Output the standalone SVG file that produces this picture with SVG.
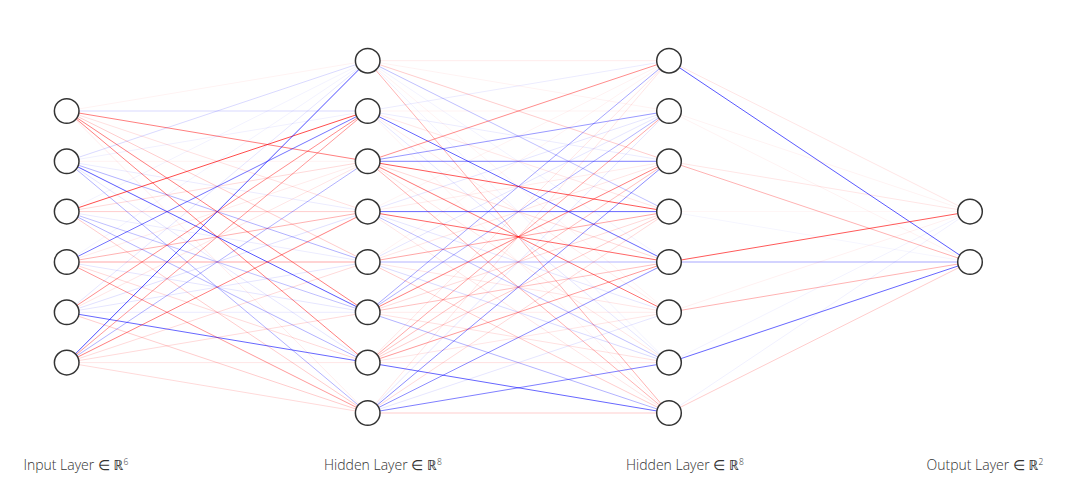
<svg xmlns="http://www.w3.org/2000/svg" width="1070" height="481" viewBox="0 0 1070 481">
<style>
.r{stroke:#ff0000;stroke-width:1;fill:none}
.b{stroke:#0000ff;stroke-width:1;fill:none}
.n{fill:#ffffff;stroke:#333333;stroke-width:1.5}
.lbl{font-family:"Open Sans","Noto Sans","DejaVu Sans",sans-serif;font-size:14px;font-weight:300;fill:#333333}
.sup{font-size:8.5px}
</style>
<rect width="1070" height="481" fill="#ffffff"/>
<g id="connectors">
<!-- input -> hidden1 -->
<line class="r" x1="66.7" y1="111" x2="367.7" y2="60.7" stroke-opacity=".05"/>
<line class="b" x1="66.7" y1="111" x2="367.7" y2="111" stroke-opacity=".15"/>
<line class="r" x1="66.7" y1="111" x2="367.7" y2="161.3" stroke-opacity=".5"/>
<line class="r" x1="66.7" y1="111" x2="367.7" y2="211.6" stroke-opacity=".12"/>
<line class="r" x1="66.7" y1="111" x2="367.7" y2="262" stroke-opacity=".2"/>
<line class="r" x1="66.7" y1="111" x2="367.7" y2="312.3" stroke-opacity=".5"/>
<line class="r" x1="66.7" y1="111" x2="367.7" y2="362.6" stroke-opacity=".5"/>
<line class="r" x1="66.7" y1="111" x2="367.7" y2="413" stroke-opacity=".08"/>

<line class="b" x1="66.7" y1="161.3" x2="367.7" y2="60.7" stroke-opacity=".15"/>
<line class="b" x1="66.7" y1="161.3" x2="367.7" y2="111" stroke-opacity=".06"/>
<line class="r" x1="66.7" y1="161.3" x2="367.7" y2="161.3" stroke-opacity=".05"/>
<line class="b" x1="66.7" y1="161.3" x2="367.7" y2="211.6" stroke-opacity=".08"/>
<line class="b" x1="66.7" y1="161.3" x2="367.7" y2="262" stroke-opacity=".3"/>
<line class="b" x1="66.7" y1="161.3" x2="367.7" y2="312.3" stroke-opacity=".65"/>
<line class="b" x1="66.7" y1="161.3" x2="367.7" y2="362.6" stroke-opacity=".1"/>
<line class="b" x1="66.7" y1="161.3" x2="367.7" y2="413" stroke-opacity=".3"/>

<line class="b" x1="66.7" y1="211.6" x2="367.7" y2="60.7" stroke-opacity=".05"/>
<line class="r" x1="66.7" y1="211.6" x2="367.7" y2="111" stroke-opacity=".7"/>
<line class="r" x1="66.7" y1="211.6" x2="367.7" y2="161.3" stroke-opacity=".15"/>
<line class="r" x1="66.7" y1="211.6" x2="367.7" y2="211.6" stroke-opacity=".2"/>
<line class="b" x1="66.7" y1="211.6" x2="367.7" y2="262" stroke-opacity=".08"/>
<line class="b" x1="66.7" y1="211.6" x2="367.7" y2="312.3" stroke-opacity=".25"/>
<line class="b" x1="66.7" y1="211.6" x2="367.7" y2="362.6" stroke-opacity=".3"/>
<line class="r" x1="66.7" y1="211.6" x2="367.7" y2="413" stroke-opacity=".2"/>

<line class="b" x1="66.7" y1="262" x2="367.7" y2="60.7" stroke-opacity=".05"/>
<line class="b" x1="66.7" y1="262" x2="367.7" y2="111" stroke-opacity=".55"/>
<line class="r" x1="66.7" y1="262" x2="367.7" y2="161.3" stroke-opacity=".08"/>
<line class="r" x1="66.7" y1="262" x2="367.7" y2="211.6" stroke-opacity=".3"/>
<line class="r" x1="66.7" y1="262" x2="367.7" y2="262" stroke-opacity=".35"/>
<line class="b" x1="66.7" y1="262" x2="367.7" y2="312.3" stroke-opacity=".1"/>
<line class="r" x1="66.7" y1="262" x2="367.7" y2="362.6" stroke-opacity=".15"/>
<line class="r" x1="66.7" y1="262" x2="367.7" y2="413" stroke-opacity=".4"/>

<line class="b" x1="66.7" y1="312.3" x2="367.7" y2="60.7" stroke-opacity=".1"/>
<line class="r" x1="66.7" y1="312.3" x2="367.7" y2="111" stroke-opacity=".45"/>
<line class="r" x1="66.7" y1="312.3" x2="367.7" y2="161.3" stroke-opacity=".1"/>
<line class="b" x1="66.7" y1="312.3" x2="367.7" y2="211.6" stroke-opacity=".12"/>
<line class="b" x1="66.7" y1="312.3" x2="367.7" y2="262" stroke-opacity=".1"/>
<line class="b" x1="66.7" y1="312.3" x2="367.7" y2="312.3" stroke-opacity=".08"/>
<line class="b" x1="66.7" y1="312.3" x2="367.7" y2="362.6" stroke-opacity=".6"/>
<line class="r" x1="66.7" y1="312.3" x2="367.7" y2="413" stroke-opacity=".2"/>

<line class="b" x1="66.7" y1="362.6" x2="367.7" y2="60.7" stroke-opacity=".7"/>
<line class="r" x1="66.7" y1="362.6" x2="367.7" y2="111" stroke-opacity=".4"/>
<line class="b" x1="66.7" y1="362.6" x2="367.7" y2="161.3" stroke-opacity=".3"/>
<line class="r" x1="66.7" y1="362.6" x2="367.7" y2="211.6" stroke-opacity=".5"/>
<line class="r" x1="66.7" y1="362.6" x2="367.7" y2="262" stroke-opacity=".15"/>
<line class="r" x1="66.7" y1="362.6" x2="367.7" y2="312.3" stroke-opacity=".15"/>
<line class="r" x1="66.7" y1="362.6" x2="367.7" y2="362.6" stroke-opacity=".1"/>
<line class="r" x1="66.7" y1="362.6" x2="367.7" y2="413" stroke-opacity=".15"/>

<!-- hidden1 -> hidden2 -->
<line class="r" x1="367.7" y1="60.7" x2="669" y2="60.7" stroke-opacity=".08"/>
<line class="r" x1="367.7" y1="60.7" x2="669" y2="111" stroke-opacity=".05"/>
<line class="r" x1="367.7" y1="60.7" x2="669" y2="161.3" stroke-opacity=".2"/>
<line class="b" x1="367.7" y1="60.7" x2="669" y2="211.6" stroke-opacity=".25"/>
<line class="b" x1="367.7" y1="60.7" x2="669" y2="262" stroke-opacity=".05"/>
<line class="r" x1="367.7" y1="60.7" x2="669" y2="312.3" stroke-opacity=".05"/>
<line class="b" x1="367.7" y1="60.7" x2="669" y2="362.6" stroke-opacity=".05"/>
<line class="r" x1="367.7" y1="60.7" x2="669" y2="413" stroke-opacity=".3"/>

<line class="b" x1="367.7" y1="111" x2="669" y2="60.7" stroke-opacity=".08"/>
<line class="r" x1="367.7" y1="111" x2="669" y2="111" stroke-opacity=".05"/>
<line class="b" x1="367.7" y1="111" x2="669" y2="161.3" stroke-opacity=".08"/>
<line class="r" x1="367.7" y1="111" x2="669" y2="211.6" stroke-opacity=".1"/>
<line class="b" x1="367.7" y1="111" x2="669" y2="262" stroke-opacity=".6"/>
<line class="r" x1="367.7" y1="111" x2="669" y2="312.3" stroke-opacity=".08"/>
<line class="b" x1="367.7" y1="111" x2="669" y2="362.6" stroke-opacity=".1"/>
<line class="r" x1="367.7" y1="111" x2="669" y2="413" stroke-opacity=".05"/>

<line class="r" x1="367.7" y1="161.3" x2="669" y2="60.7" stroke-opacity=".45"/>
<line class="b" x1="367.7" y1="161.3" x2="669" y2="111" stroke-opacity=".4"/>
<line class="b" x1="367.7" y1="161.3" x2="669" y2="161.3" stroke-opacity=".5"/>
<line class="r" x1="367.7" y1="161.3" x2="669" y2="211.6" stroke-opacity=".65"/>
<line class="r" x1="367.7" y1="161.3" x2="669" y2="262" stroke-opacity=".15"/>
<line class="r" x1="367.7" y1="161.3" x2="669" y2="312.3" stroke-opacity=".55"/>
<line class="r" x1="367.7" y1="161.3" x2="669" y2="362.6" stroke-opacity=".1"/>
<line class="r" x1="367.7" y1="161.3" x2="669" y2="413" stroke-opacity=".3"/>

<line class="r" x1="367.7" y1="211.6" x2="669" y2="60.7" stroke-opacity=".05"/>
<line class="b" x1="367.7" y1="211.6" x2="669" y2="111" stroke-opacity=".1"/>
<line class="r" x1="367.7" y1="211.6" x2="669" y2="161.3" stroke-opacity=".08"/>
<line class="b" x1="367.7" y1="211.6" x2="669" y2="211.6" stroke-opacity=".6" stroke-width="1.6"/>
<line class="r" x1="367.7" y1="211.6" x2="669" y2="262" stroke-opacity=".6"/>
<line class="b" x1="367.7" y1="211.6" x2="669" y2="312.3" stroke-opacity=".1"/>
<line class="b" x1="367.7" y1="211.6" x2="669" y2="362.6" stroke-opacity=".25"/>
<line class="r" x1="367.7" y1="211.6" x2="669" y2="413" stroke-opacity=".1"/>

<line class="r" x1="367.7" y1="262" x2="669" y2="60.7" stroke-opacity=".05"/>
<line class="b" x1="367.7" y1="262" x2="669" y2="111" stroke-opacity=".1"/>
<line class="r" x1="367.7" y1="262" x2="669" y2="161.3" stroke-opacity=".1"/>
<line class="r" x1="367.7" y1="262" x2="669" y2="211.6" stroke-opacity=".35"/>
<line class="b" x1="367.7" y1="262" x2="669" y2="262" stroke-opacity=".3"/>
<line class="r" x1="367.7" y1="262" x2="669" y2="312.3" stroke-opacity=".1"/>
<line class="b" x1="367.7" y1="262" x2="669" y2="362.6" stroke-opacity=".15"/>
<line class="r" x1="367.7" y1="262" x2="669" y2="413" stroke-opacity=".2"/>

<line class="b" x1="367.7" y1="312.3" x2="669" y2="60.7" stroke-opacity=".35"/>
<line class="b" x1="367.7" y1="312.3" x2="669" y2="111" stroke-opacity=".3"/>
<line class="r" x1="367.7" y1="312.3" x2="669" y2="161.3" stroke-opacity=".5"/>
<line class="r" x1="367.7" y1="312.3" x2="669" y2="211.6" stroke-opacity=".15"/>
<line class="r" x1="367.7" y1="312.3" x2="669" y2="262" stroke-opacity=".25"/>
<line class="r" x1="367.7" y1="312.3" x2="669" y2="312.3" stroke-opacity=".08"/>
<line class="r" x1="367.7" y1="312.3" x2="669" y2="362.6" stroke-opacity=".12"/>
<line class="b" x1="367.7" y1="312.3" x2="669" y2="413" stroke-opacity=".3"/>

<line class="r" x1="367.7" y1="362.6" x2="669" y2="60.7" stroke-opacity=".1"/>
<line class="r" x1="367.7" y1="362.6" x2="669" y2="111" stroke-opacity=".35"/>
<line class="r" x1="367.7" y1="362.6" x2="669" y2="161.3" stroke-opacity=".25"/>
<line class="r" x1="367.7" y1="362.6" x2="669" y2="211.6" stroke-opacity=".2"/>
<line class="r" x1="367.7" y1="362.6" x2="669" y2="262" stroke-opacity=".4"/>
<line class="r" x1="367.7" y1="362.6" x2="669" y2="312.3" stroke-opacity=".1"/>
<line class="r" x1="367.7" y1="362.6" x2="669" y2="362.6" stroke-opacity=".12"/>
<line class="b" x1="367.7" y1="362.6" x2="669" y2="413" stroke-opacity=".6"/>

<line class="r" x1="367.7" y1="413" x2="669" y2="60.7" stroke-opacity=".1"/>
<line class="b" x1="367.7" y1="413" x2="669" y2="111" stroke-opacity=".1"/>
<line class="b" x1="367.7" y1="413" x2="669" y2="161.3" stroke-opacity=".45"/>
<line class="r" x1="367.7" y1="413" x2="669" y2="211.6" stroke-opacity=".15"/>
<line class="b" x1="367.7" y1="413" x2="669" y2="262" stroke-opacity=".45"/>
<line class="b" x1="367.7" y1="413" x2="669" y2="312.3" stroke-opacity=".1"/>
<line class="b" x1="367.7" y1="413" x2="669" y2="362.6" stroke-opacity=".5"/>
<line class="r" x1="367.7" y1="413" x2="669" y2="413" stroke-opacity=".2"/>

<!-- hidden2 -> output -->
<line class="r" x1="669" y1="60.7" x2="970" y2="211.6" stroke-opacity=".1"/>
<line class="b" x1="669" y1="60.7" x2="970" y2="262" stroke-opacity=".65"/>
<line class="r" x1="669" y1="111" x2="970" y2="211.6" stroke-opacity=".05"/>
<line class="r" x1="669" y1="111" x2="970" y2="262" stroke-opacity=".05"/>
<line class="r" x1="669" y1="161.3" x2="970" y2="211.6" stroke-opacity=".1"/>
<line class="r" x1="669" y1="161.3" x2="970" y2="262" stroke-opacity=".3"/>
<line class="r" x1="669" y1="211.6" x2="970" y2="211.6" stroke-opacity=".04"/>
<line class="b" x1="669" y1="211.6" x2="970" y2="262" stroke-opacity=".04"/>
<line class="r" x1="669" y1="262" x2="970" y2="211.6" stroke-opacity=".65"/>
<line class="b" x1="669" y1="262" x2="970" y2="262" stroke-opacity=".35"/>
<line class="r" x1="669" y1="312.3" x2="970" y2="211.6" stroke-opacity=".06"/>
<line class="r" x1="669" y1="312.3" x2="970" y2="262" stroke-opacity=".3"/>
<line class="b" x1="669" y1="362.6" x2="970" y2="211.6" stroke-opacity=".05"/>
<line class="b" x1="669" y1="362.6" x2="970" y2="262" stroke-opacity=".6"/>
<line class="b" x1="669" y1="413" x2="970" y2="211.6" stroke-opacity=".06"/>
<line class="r" x1="669" y1="413" x2="970" y2="262" stroke-opacity=".2"/>
</g>
<g id="layer-input">
<g id="in-1"><circle class="n" cx="66.7" cy="111" r="12.3"/></g>
<g id="in-2"><circle class="n" cx="66.7" cy="161.3" r="12.3"/></g>
<g id="in-3"><circle class="n" cx="66.7" cy="211.6" r="12.3"/></g>
<g id="in-4"><circle class="n" cx="66.7" cy="262" r="12.3"/></g>
<g id="in-5"><circle class="n" cx="66.7" cy="312.3" r="12.3"/></g>
<g id="in-6"><circle class="n" cx="66.7" cy="362.6" r="12.3"/></g>
</g>
<g id="layer-hidden1">
<g id="h1-1"><circle class="n" cx="367.7" cy="60.7" r="12.3"/></g>
<g id="h1-2"><circle class="n" cx="367.7" cy="111" r="12.3"/></g>
<g id="h1-3"><circle class="n" cx="367.7" cy="161.3" r="12.3"/></g>
<g id="h1-4"><circle class="n" cx="367.7" cy="211.6" r="12.3"/></g>
<g id="h1-5"><circle class="n" cx="367.7" cy="262" r="12.3"/></g>
<g id="h1-6"><circle class="n" cx="367.7" cy="312.3" r="12.3"/></g>
<g id="h1-7"><circle class="n" cx="367.7" cy="362.6" r="12.3"/></g>
<g id="h1-8"><circle class="n" cx="367.7" cy="413" r="12.3"/></g>
</g>
<g id="layer-hidden2">
<g id="h2-1"><circle class="n" cx="669" cy="60.7" r="12.3"/></g>
<g id="h2-2"><circle class="n" cx="669" cy="111" r="12.3"/></g>
<g id="h2-3"><circle class="n" cx="669" cy="161.3" r="12.3"/></g>
<g id="h2-4"><circle class="n" cx="669" cy="211.6" r="12.3"/></g>
<g id="h2-5"><circle class="n" cx="669" cy="262" r="12.3"/></g>
<g id="h2-6"><circle class="n" cx="669" cy="312.3" r="12.3"/></g>
<g id="h2-7"><circle class="n" cx="669" cy="362.6" r="12.3"/></g>
<g id="h2-8"><circle class="n" cx="669" cy="413" r="12.3"/></g>
</g>
<g id="layer-output">
<g id="out-1"><circle class="n" cx="970" cy="211.6" r="12.3"/></g>
<g id="out-2"><circle class="n" cx="970" cy="262" r="12.3"/></g>
</g>
<g id="labels">
<text class="lbl" x="23.4" y="470">Input Layer ∈ ℝ<tspan class="sup" dy="-5.5">6</tspan></text>
<text class="lbl" x="324" y="470">Hidden Layer ∈ ℝ<tspan class="sup" dy="-5.5">8</tspan></text>
<text class="lbl" x="626" y="470">Hidden Layer ∈ ℝ<tspan class="sup" dy="-5.5">8</tspan></text>
<text class="lbl" x="926.5" y="470">Output Layer ∈ ℝ<tspan class="sup" dy="-5.5">2</tspan></text>
</g>
</svg>
